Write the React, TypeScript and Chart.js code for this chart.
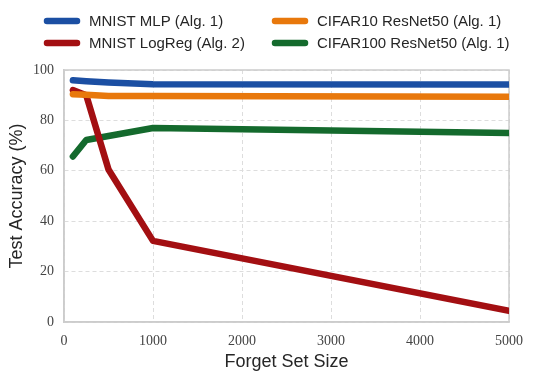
import React, { useEffect, useRef } from "react";
import { Chart, registerables } from "chart.js";

Chart.register(...registerables);

const forgetSizes = [100, 250, 500, 1000, 5000];
const seriesNames = [
  "MNIST MLP (Alg. 1)",
  "CIFAR10 ResNet50 (Alg. 1)",
  "MNIST LogReg (Alg. 2)",
  "CIFAR100 ResNet50 (Alg. 1)",
];
const mnistMlp = [95.9, 95.5, 95.0, 94.3, 94.2];
const cifar10 = [90.4, 90.2, 89.7, 89.7, 89.4];
const mnistLogReg = [92.0, 90.0, 60.5, 32.2, 4.4];
const cifar100 = [65.7, 72.2, 73.8, 77.0, 75.0];
const xTicks = [0, 1000, 2000, 3000, 4000, 5000];
const yTicks = [0, 20, 40, 60, 80, 100];

const colors = ["#1b4fa3", "#e8780c", "#a30f12", "#146a2d"];
const drawOrder = [3, 0, 1, 2];
const seriesValues = [mnistMlp, cifar10, mnistLogReg, cifar100];

const SANS = "'Liberation Sans', Arial, Helvetica, sans-serif";
const SERIF = "'Liberation Serif', 'DejaVu Serif', serif";

const legendPlugin = {
  id: "customLegend",
  afterDraw(chart: any) {
    const ctx = chart.ctx;
    const cols = [44, 272];
    const rows = [21, 43];
    ctx.save();
    ctx.font = `15px ${SANS}`;
    ctx.textBaseline = "middle";
    ctx.textAlign = "left";
    chart.data.datasets.forEach((ds: any, i: number) => {
      const x = cols[i % 2];
      const y = rows[Math.floor(i / 2)];
      ctx.strokeStyle = ds.borderColor;
      ctx.lineWidth = 6.5;
      ctx.lineCap = "round";
      ctx.beginPath();
      ctx.moveTo(x + 3, y);
      ctx.lineTo(x + 33, y);
      ctx.stroke();
      ctx.fillStyle = "#262626";
      ctx.fillText(ds.label, x + 45, y + 0.5);
    });
    ctx.restore();
  },
};

const gridOpts = {
  color: "#dddddd",
  lineWidth: 1,
  drawTicks: false,
  borderDash: [4, 3],
};

export default function App() {
  const ref = useRef<HTMLCanvasElement | null>(null);
  useEffect(() => {
    document.body.style.margin = "0";
    const canvas = ref.current!;
    const chart = new Chart(canvas, {
      type: "line",
      data: {
        datasets: seriesNames.map((name, i) => ({
          label: name,
          data: forgetSizes.map((x, j) => ({ x, y: seriesValues[i][j] })),
          borderColor: colors[i],
          backgroundColor: colors[i],
          borderWidth: 6.5,
          borderCapStyle: "round",
          borderJoinStyle: "round",
          pointRadius: 0,
          tension: 0,
          order: drawOrder[i],
        })),
      },
      options: {
        animation: false,
        responsive: false,
        devicePixelRatio: 1,
        layout: { padding: { top: 70, right: 31, left: 0, bottom: 0 } },
        plugins: {
          legend: { display: false },
          tooltip: { enabled: false },
        },
        scales: {
          x: {
            type: "linear",
            min: 0,
            max: 5000,
            afterBuildTicks: (s: any) => {
              s.ticks = xTicks.map((v) => ({ value: v }));
            },
            afterFit: (s: any) => {
              s.height = 57;
            },
            ticks: {
              font: { family: SERIF, size: 14 },
              color: "#444",
              padding: 11,
              maxRotation: 0,
              callback: (v: any) => String(v),
            },
            grid: gridOpts,
            border: { color: "#cccccc", width: 1.5, dash: [4, 3] },
            title: {
              display: true,
              text: "Forget Set Size",
              font: { family: SANS, size: 18 },
              color: "#262626",
              padding: { top: 0, bottom: 6 },
            },
          },
          y: {
            type: "linear",
            min: 0,
            max: 100,
            afterBuildTicks: (s: any) => {
              s.ticks = yTicks.map((v) => ({ value: v }));
            },
            afterFit: (s: any) => {
              s.width = 64;
            },
            ticks: {
              font: { family: SERIF, size: 14 },
              color: "#444",
              padding: 10,
              callback: (v: any) => String(v),
            },
            grid: gridOpts,
            border: { color: "#cccccc", width: 1.5, dash: [4, 3] },
            title: {
              display: true,
              text: "Test Accuracy (%)",
              font: { family: SANS, size: 18 },
              color: "#262626",
              padding: { top: 6, bottom: 0 },
            },
          },
        },
      },
      plugins: [
        legendPlugin,
        {
          id: "frame",
          beforeDatasetsDraw(chart: any) {
            const { ctx, chartArea: a } = chart;
            ctx.save();
            ctx.strokeStyle = "#cccccc";
            ctx.lineWidth = 1.5;
            ctx.setLineDash([]);
            ctx.strokeRect(a.left, a.top, a.right - a.left, a.bottom - a.top);
            ctx.restore();
          },
        },
      ],
    } as any);
    return () => chart.destroy();
  }, []);
  return (
    <div style={{ position: "absolute", left: 0, top: 0, width: 540, height: 379 }}>
      <canvas ref={ref} width={540} height={379} />
    </div>
  );
}
